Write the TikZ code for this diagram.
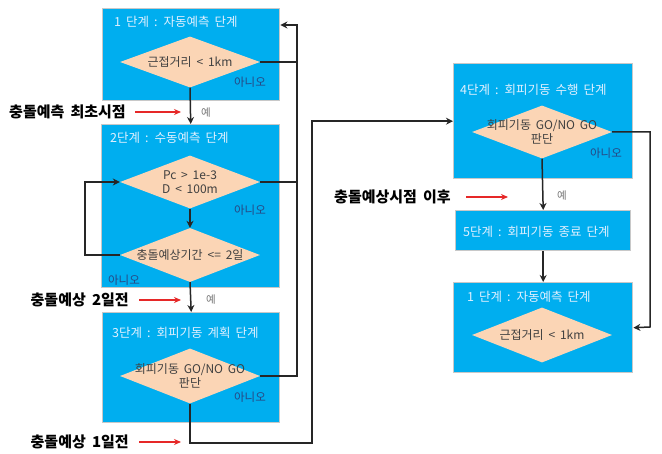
\documentclass[tikz,border=0pt]{standalone}
\usepackage{fontspec}
\setmainfont[WordSpace=1.8]{Noto Sans CJK KR}
\usetikzlibrary{shapes.geometric,arrows.meta,calc}
\definecolor{boxblue}{RGB}{0,174,239}
\definecolor{peach}{RGB}{251,213,181}
\definecolor{boxedge}{RGB}{200,200,200}
\definecolor{notxt}{RGB}{40,70,130}
\definecolor{titletxt}{RGB}{225,240,255}
\definecolor{redline}{RGB}{230,40,40}
\begin{document}
\begin{tikzpicture}[x=1pt,y=-1pt,
  stagebox/.style={draw=boxedge,line width=1.4pt,fill=boxblue,rectangle,inner sep=0pt,anchor=north west},
  choice/.style={diamond,fill=peach,inner sep=0pt,minimum width=140pt,shape aspect=2.6},
  choicetext/.style={align=center,font=\fontsize{12}{14}\selectfont,text=black!75,inner sep=0pt},
  ttl/.style={anchor=west,text=titletxt,font=\fontsize{12.5}{14}\selectfont,inner sep=0pt},
  nolab/.style={text=notxt,font=\fontsize{11.5}{13}\selectfont,inner sep=0pt},
  yeslab/.style={text=black!55,font=\fontsize{10.5}{12}\selectfont,inner sep=0pt},
  sidelab/.style={anchor=east,font=\bfseries\fontsize{15}{17}\selectfont,inner sep=0pt},
  flow/.style={draw=black!85,line width=1.5pt,-{Stealth[length=7pt,width=7pt]}},
  plain/.style={draw=black!85,line width=1.5pt},
  redarrow/.style={draw=redline,line width=1.6pt,-{Stealth[length=7pt,width=6pt]}},
]
\useasboundingbox (0,0) rectangle (662,454);
\fill[white] (0,0) rectangle (662,454);

% stage boxes
\node[stagebox,minimum width=177pt,minimum height=92pt] (box1) at (102,8) {};
\node[stagebox,minimum width=178pt,minimum height=163pt] (box2) at (101,124) {};
\node[stagebox,minimum width=177pt,minimum height=110pt] (box3) at (102,312) {};
\node[stagebox,minimum width=179pt,minimum height=115pt] (box4) at (453,63) {};
\node[stagebox,minimum width=175pt,minimum height=40pt] (box5) at (455,210) {};
\node[stagebox,minimum width=179pt,minimum height=90pt] (box1b) at (453,282) {};

% titles
\node[ttl] (t1) at (114,22) {1 단계 : 자동예측 단계};
\node[ttl] (t2) at (110,138) {2단계 : 수동예측 단계};
\node[ttl] (t3) at (112,333) {3단계 : 회피기동 계획 단계};
\node[ttl] (t4) at (460,90) {4단계 : 회피기동 수행 단계};
\node[ttl] (t5) at (463,232) {5단계 : 회피기동 종료 단계};
\node[ttl] (t1b) at (467,297) {1 단계 : 자동예측 단계};

% decisions
\node[choice,minimum height=51pt,label={[choicetext]center:근접거리 < 1km}] (d1) at (190,62) {};
\node[choice,minimum height=53pt,label={[choicetext]center:Pc > 1e-3\\D < 100m}] (d2a) at (190,182) {};
\node[choice,minimum height=54pt,label={[choicetext]center:충돌예상기간 <= 2일}] (d2b) at (190,255) {};
\node[choice,minimum height=55pt,label={[choicetext]center:회피기동 GO/NO GO\\판단}] (d3) at (190,376) {};
\node[choice,minimum height=53pt,label={[choicetext]center:회피기동 GO/NO GO\\판단}] (d4) at (542,132) {};
\node[choice,minimum height=55pt,label={[choicetext]center:근접거리 < 1km}] (d1b) at (542,335) {};

% "no" labels
\node[nolab] (n1) at (250,82) {아니오};
\node[nolab] (n2) at (250,210) {아니오};
\node[nolab] (n3) at (124,280) {아니오};
\node[nolab] (n4) at (250,397) {아니오};
\node[nolab] (n5) at (606,153) {아니오};

% "yes" labels
\node[yeslab] (y1) at (206,113) {예};
\node[yeslab] (y2) at (211,300) {예};
\node[yeslab] (y3) at (562,196) {예};

% side labels
\node[sidelab] (s1) at (126,112) {충돌예측 최초시점};
\node[sidelab] (s2) at (129,300) {충돌예상 2일전};
\node[sidelab] (s3) at (129,442) {충돌예상 1일전};
\node[sidelab] (s4) at (451,197) {충돌예상시점 이후};

% red arrows
\coordinate (r1a) at (135,112); \coordinate (r1b) at (181,112);
\coordinate (r2a) at (139,300); \coordinate (r2b) at (181,300);
\coordinate (r3a) at (139,442); \coordinate (r3b) at (181,442);
\coordinate (r4a) at (466,197); \coordinate (r4b) at (508,197);
\draw[redarrow] (r1a) -- (r1b);
\draw[redarrow] (r2a) -- (r2b);
\draw[redarrow] (r3a) -- (r3b);
\draw[redarrow] (r4a) -- (r4b);

% flow connectors
\coordinate (J) at (297,25);
\coordinate (K) at (312,443);
\coordinate (L) at (650,327);
\draw[flow] (d1.south) -- (box2.north);
\draw[plain] (d1.east) -- (d1.east -| J);
\draw[plain] (d2a.east) -- (d2a.east -| J);
\draw[flow] (d3.east) -| (J) -- (box1.east |- J);
\draw[flow] (d2a.south) -- (d2b.north);
\draw[flow] (d2b.west) -- ++(-35,0) |- (d2a.west);
\draw[flow] (d2b.south) -- (box3.north);
\draw[flow] (d3.south) |- (K) |- (box4.west);
\draw[flow] (d4.south) -- (box5.north);
\draw[flow] (box5.south) -- (box1b.north);
\draw[flow] (d4.east) -| (L) -- (box1b.east);
\end{tikzpicture}
\end{document}
